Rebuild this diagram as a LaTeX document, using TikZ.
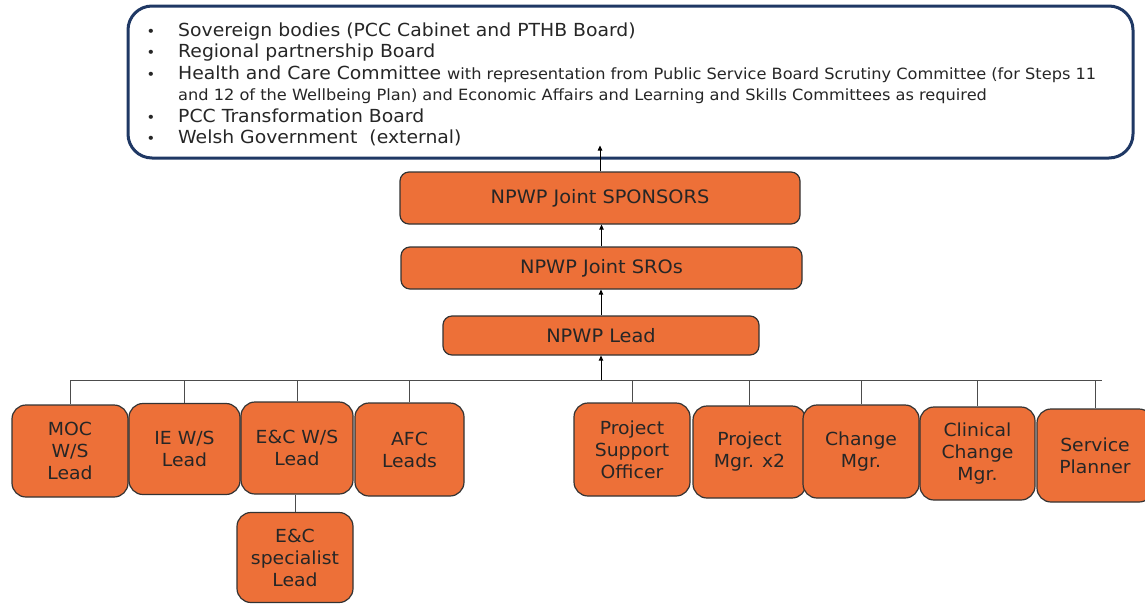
\documentclass[tikz,border=0pt]{standalone}
\usepackage{fontspec}
\setmainfont{DejaVu Sans}[FakeStretch=1.045]
\usetikzlibrary{arrows.meta}
\definecolor{orangebox}{RGB}{237,112,56}
\definecolor{navyline}{RGB}{31,56,100}
\definecolor{txt}{RGB}{38,38,38}
\begin{document}
\begin{tikzpicture}[x=1pt,y=1pt,
  box/.style={draw=black!80,line width=1.2pt,fill=orangebox,rounded corners=14pt,align=center,text=txt,font=\fontsize{18}{22}\selectfont,inner sep=0pt},
  widebox/.style={box,rounded corners=9pt},
  lst/.style={anchor=base west,inner sep=0pt,text=txt,font=\fontsize{18}{21.5}\selectfont},
  smalltxt/.style={lst,font=\fontsize{15.5}{17}\selectfont},
  bul/.style={anchor=base,inner sep=0pt,text=txt,font=\fontsize{14}{14}\selectfont},
  conn/.style={draw=black!70,line width=0.8pt},
  arr/.style={draw=black,line width=0.8pt,-{Triangle[length=5pt,width=4.5pt]}}]
\useasboundingbox (0,0) rectangle (1145,-603);

% governance box
\node[draw=navyline,line width=3pt,rounded corners=24pt,minimum width=1005pt,minimum height=152pt,fill=white] (gov) at (630.5,-82) {};
\node[bul] (b1) at (151,-36) {•};
\node[lst] (l1) at (178,-36) {Sovereign bodies (PCC Cabinet and PTHB Board)};
\node[bul] (b2) at (151,-57.5) {•};
\node[lst] (l2) at (178,-57.5) {Regional partnership Board};
\node[bul] (b3) at (151,-79) {•};
\node[lst] (l3) at (178,-79) {Health and Care Committee {\fontsize{15.5}{17}\selectfont with representation from Public Service Board Scrutiny Committee (for Steps 11}};
\node[smalltxt] (l3b) at (178,-100.5) {and 12 of the Wellbeing Plan) and Economic Affairs and Learning and Skills Committees as required};
\node[bul] (b4) at (151,-122) {•};
\node[lst] (l4) at (178,-122) {PCC Transformation Board};
\node[bul] (b5) at (151,-143.5) {•};
\node[lst] (l5) at (178,-143.5) {Welsh Government\ \ (external)};

% NPWP chain
\node[widebox,minimum width=400pt,minimum height=52pt,font=\fontsize{18.5}{22}\selectfont] (spons) at (600,-198) {NPWP Joint SPONSORS};
\node[widebox,minimum width=401pt,minimum height=42pt,font=\fontsize{18.5}{22}\selectfont] (sro) at (601.5,-268) {NPWP Joint SROs};
\node[widebox,minimum width=316pt,minimum height=39pt,font=\fontsize{18.5}{22}\selectfont] (lead) at (601,-335.5) {NPWP Lead};

\draw[arr] (spons.north) -- ([yshift=14pt]gov.south -| spons.north);
\draw[arr] (sro.north) -- (spons.south -| sro.north);
\draw[arr] (lead.north) -- (sro.south -| lead.north);

% team boxes
\node[box,minimum width=116pt,minimum height=92pt] (moc) at (70,-451) {MOC\\W/S\\Lead};
\node[box,minimum width=111pt,minimum height=91pt] (ie) at (184.5,-449) {IE W/S\\Lead};
\node[box,minimum width=112pt,minimum height=92pt] (ec) at (297,-448) {E\&C W/S\\Lead};
\node[box,minimum width=109pt,minimum height=93pt] (afc) at (409.5,-449.5) {AFC\\Leads};
\node[box,minimum width=116pt,minimum height=90pt] (spec) at (295,-557.5) {E\&C\\specialist\\Lead};
\node[box,minimum width=116pt,minimum height=93pt] (pso) at (632,-449.5) {Project\\Support\\Officer};
\node[box,minimum width=113pt,minimum height=92pt] (pm) at (749.5,-452) {Project\\Mgr. x2};
\node[box,minimum width=116pt,minimum height=93pt] (chg) at (861,-451.5) {Change\\Mgr.};
\node[box,minimum width=115pt,minimum height=93pt] (clin) at (977.5,-453.5) {Clinical\\Change\\Mgr.};
\node[box,minimum width=116pt,minimum height=93pt] (sp) at (1095,-455.5) {Service\\Planner};

% tree connectors
\coordinate (hlL) at (70,-380);
\coordinate (hlR) at (1102,-380);
\draw[conn] (hlL) -- (hlR);
\draw[arr] (lead.south |- hlL) -- (lead.south);
\foreach \n in {moc,ie,ec,afc,pso,pm,chg,clin,sp}
  \draw[conn] (\n.north) -- (\n.north |- hlL);
\draw[conn] (ec.south -| spec.north) -- (spec.north);
\end{tikzpicture}
\end{document}
